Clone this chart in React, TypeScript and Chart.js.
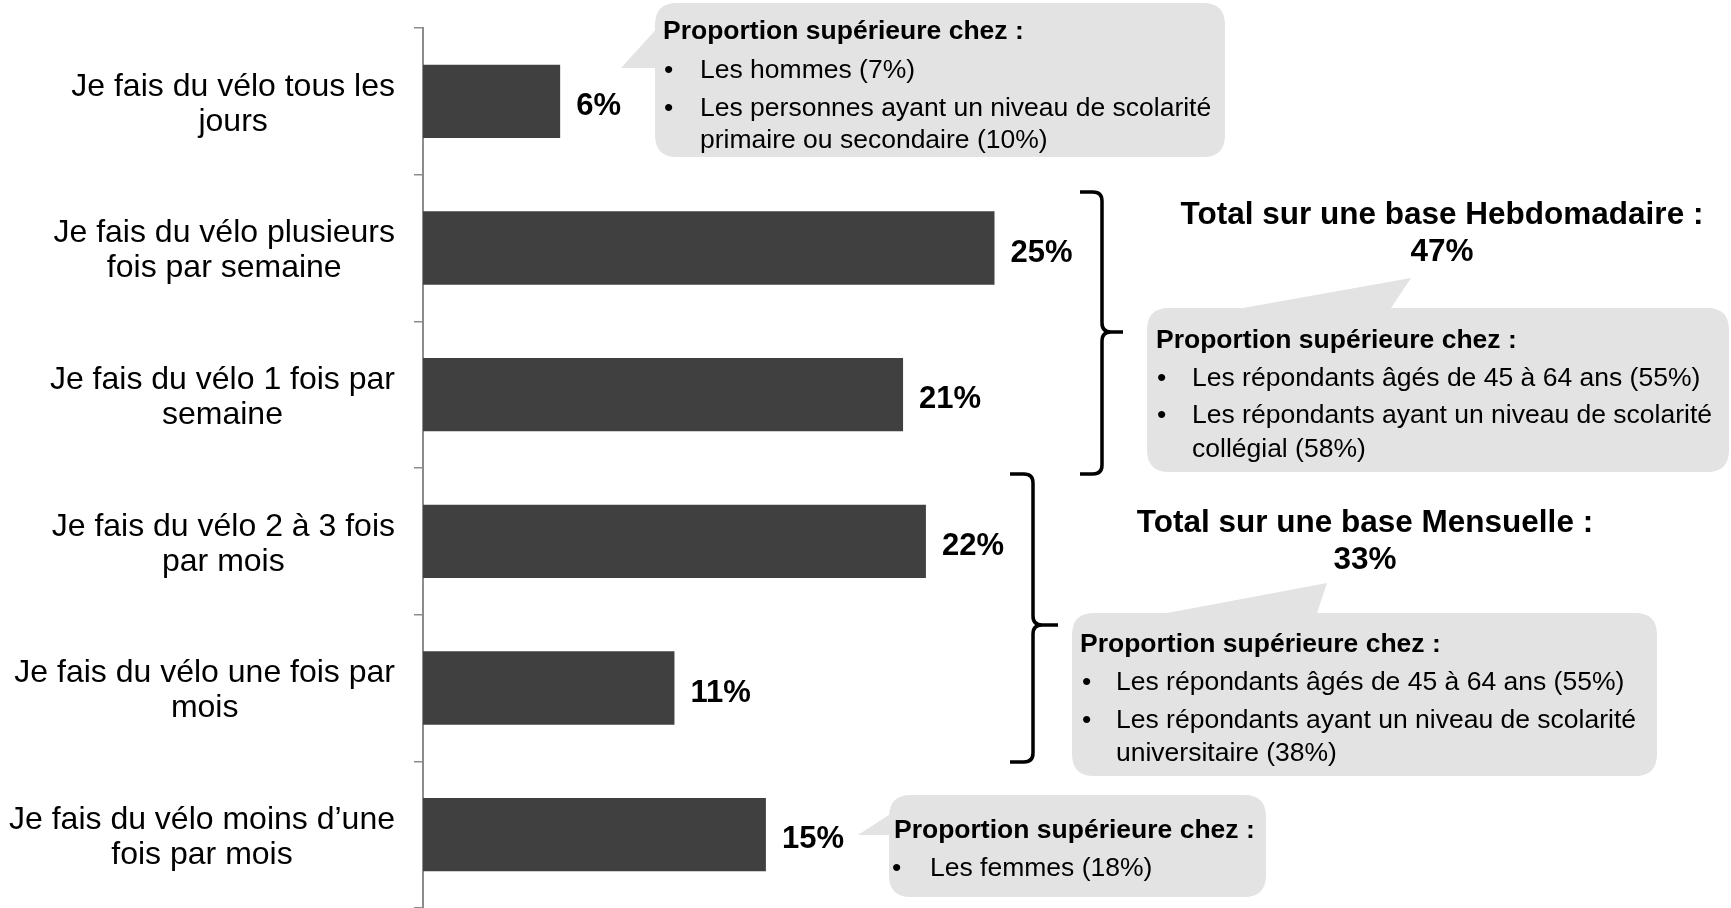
import React, { useEffect, useRef } from "react";
import { Chart, registerables } from "chart.js";

Chart.register(...registerables);

// ---------- Data ----------
const categories: string[][] = [
  ["Je fais du vélo tous les", "jours"],
  ["Je fais du vélo plusieurs", "fois par semaine"],
  ["Je fais du vélo 1 fois par", "semaine"],
  ["Je fais du vélo 2 à 3 fois", "par mois"],
  ["Je fais du vélo une fois par", "mois"],
  ["Je fais du vélo moins d’une", "fois par mois"],
];
const values: number[] = [6, 25, 21, 22, 11, 15];
const valueLabels: string[] = values.map((v) => `${v}%`);

const calloutHeading = "Proportion supérieure chez :";
const dailyNotes: string[] = [
  "Les hommes (7%)",
  "Les personnes ayant un niveau de scolarité",
  "primaire ou secondaire (10%)",
];
const dailyBullets: boolean[] = [true, true, false];
const weeklyTotal: string[] = ["Total sur une base Hebdomadaire :", "47%"];
const weeklyNotes: string[] = [
  "Les répondants âgés de 45 à 64 ans (55%)",
  "Les répondants ayant un niveau de scolarité",
  "collégial (58%)",
];
const weeklyBullets: boolean[] = [true, true, false];
const monthlyTotal: string[] = ["Total sur une base Mensuelle :", "33%"];
const monthlyNotes: string[] = [
  "Les répondants âgés de 45 à 64 ans (55%)",
  "Les répondants ayant un niveau de scolarité",
  "universitaire (38%)",
];
const monthlyBullets: boolean[] = [true, true, false];
const lessNotes: string[] = ["Les femmes (18%)"];
const lessBullets: boolean[] = [true];

// ---------- Layout / style ----------
const W = 1731;
const H = 908;
const AXIS_X = 423;
const FONT = '"Liberation Sans", Arial, Helvetica, sans-serif';
const BAR_COLOR = "#404040";
const AXIS_COLOR = "#8c8c8c";
const CALLOUT_FILL = "#e3e3e3";
const TEXT_DY = 3; // visual centring of 'middle' baseline

type Callout = {
  box: [number, number, number, number]; // x1,y1,x2,y2
  pointer: number[][];
  headX: number;
  headY: number;
  bulletX: number;
  textX: number;
  lineY: number[];
  notes: string[];
  bullets: boolean[];
};

const callouts: Callout[] = [
  {
    box: [655, 3, 1225, 157],
    pointer: [[621, 68], [670, 14], [670, 68]],
    headX: 663, headY: 29, bulletX: 664, textX: 700,
    lineY: [68, 106, 138],
    notes: dailyNotes, bullets: dailyBullets,
  },
  {
    box: [1147, 308, 1729, 472],
    pointer: [[1243, 308], [1411, 278], [1391, 308], [1391, 322], [1243, 322]],
    headX: 1156, headY: 338, bulletX: 1157, textX: 1192,
    lineY: [376, 413, 447],
    notes: weeklyNotes, bullets: weeklyBullets,
  },
  {
    box: [1072, 613, 1657, 776],
    pointer: [[1167, 613], [1327, 583], [1317, 613], [1317, 626], [1167, 626]],
    headX: 1080, headY: 642, bulletX: 1082, textX: 1116,
    lineY: [680, 718, 751],
    notes: monthlyNotes, bullets: monthlyBullets,
  },
  {
    box: [889, 795, 1266, 897],
    pointer: [[858, 835], [905, 804.6], [905, 835]],
    headX: 894, headY: 828, bulletX: 892, textX: 930,
    lineY: [866],
    notes: lessNotes, bullets: lessBullets,
  },
];

const totals = [
  { lines: weeklyTotal, x: 1442, ys: [214, 251] },
  { lines: monthlyTotal, x: 1365, ys: [522, 559] },
];

const braces = [
  { xl: 1080, xv: 1102, xn: 1123, top: 192, mid: 332, bottom: 474 },
  { xl: 1010, xv: 1033, xn: 1058, top: 474, mid: 625, bottom: 762 },
];

function roundRectPath(ctx: CanvasRenderingContext2D, x: number, y: number, w: number, h: number, r: number) {
  ctx.beginPath();
  ctx.moveTo(x + r, y);
  ctx.lineTo(x + w - r, y);
  ctx.quadraticCurveTo(x + w, y, x + w, y + r);
  ctx.lineTo(x + w, y + h - r);
  ctx.quadraticCurveTo(x + w, y + h, x + w - r, y + h);
  ctx.lineTo(x + r, y + h);
  ctx.quadraticCurveTo(x, y + h, x, y + h - r);
  ctx.lineTo(x, y + r);
  ctx.quadraticCurveTo(x, y, x + r, y);
  ctx.closePath();
}

function drawCallout(ctx: CanvasRenderingContext2D, c: Callout) {
  const [x1, y1, x2, y2] = c.box;
  ctx.fillStyle = CALLOUT_FILL;
  roundRectPath(ctx, x1, y1, x2 - x1, y2 - y1, 22);
  ctx.fill();
  ctx.beginPath();
  c.pointer.forEach(([px, py], i) => (i ? ctx.lineTo(px, py) : ctx.moveTo(px, py)));
  ctx.closePath();
  ctx.fill();

  ctx.fillStyle = "#000";
  ctx.textAlign = "left";
  ctx.textBaseline = "middle";
  ctx.font = `bold 26.5px ${FONT}`;
  ctx.fillText(calloutHeading, c.headX, c.headY + TEXT_DY);
  ctx.font = `26.5px ${FONT}`;
  c.notes.forEach((t, i) => {
    if (c.bullets[i]) ctx.fillText("•", c.bulletX, c.lineY[i] + TEXT_DY);
    ctx.fillText(t, c.textX, c.lineY[i] + TEXT_DY);
  });
}

function drawBrace(ctx: CanvasRenderingContext2D, b: typeof braces[number]) {
  const r = 9;
  ctx.strokeStyle = "#000";
  ctx.lineWidth = 3.5;
  ctx.lineJoin = "round";
  ctx.beginPath();
  ctx.moveTo(b.xl, b.top);
  ctx.lineTo(b.xv - r, b.top);
  ctx.quadraticCurveTo(b.xv, b.top, b.xv, b.top + r);
  ctx.lineTo(b.xv, b.mid - r);
  ctx.quadraticCurveTo(b.xv, b.mid, b.xv + r, b.mid);
  ctx.lineTo(b.xn, b.mid);
  ctx.moveTo(b.xv + r, b.mid);
  ctx.quadraticCurveTo(b.xv, b.mid, b.xv, b.mid + r);
  ctx.lineTo(b.xv, b.bottom - r);
  ctx.quadraticCurveTo(b.xv, b.bottom, b.xv - r, b.bottom);
  ctx.lineTo(b.xl, b.bottom);
  ctx.stroke();
}

const overlayPlugin = {
  id: "overlay",
  afterDatasetsDraw(chart: any) {
    const ctx: CanvasRenderingContext2D = chart.ctx;
    const yScale = chart.scales.y;
    const area = chart.chartArea;
    ctx.save();

    // category labels
    ctx.fillStyle = "#000";
    ctx.textBaseline = "middle";
    ctx.textAlign = "center";
    ctx.font = `32px ${FONT}`;
    const right = area.left - 28;
    const lh = 35;
    categories.forEach((lines, i) => {
      const cy = yScale.getPixelForValue(i) + TEXT_DY;
      const w = Math.max(...lines.map((l) => ctx.measureText(l).width));
      const cx = right - w / 2;
      const start = cy - ((lines.length - 1) * lh) / 2;
      lines.forEach((l, j) => ctx.fillText(l, cx, start + j * lh));
    });

    // value labels
    const meta = chart.getDatasetMeta(0);
    ctx.font = `bold 31px ${FONT}`;
    ctx.textAlign = "left";
    meta.data.forEach((bar: any, i: number) => {
      ctx.fillText(valueLabels[i], bar.x + 16, bar.y + TEXT_DY + 2);
    });

    // braces
    braces.forEach((b) => drawBrace(ctx, b));

    // totals
    ctx.fillStyle = "#000";
    ctx.textAlign = "center";
    ctx.textBaseline = "middle";
    ctx.font = `bold 31.5px ${FONT}`;
    totals.forEach((t) => t.lines.forEach((l, j) => ctx.fillText(l, t.x, t.ys[j] + 1)));

    // callouts
    callouts.forEach((c) => drawCallout(ctx, c));

    ctx.restore();
  },
};

export default function App() {
  const ref = useRef<HTMLCanvasElement | null>(null);

  useEffect(() => {
    if (!ref.current) return;
    const chart = new Chart(ref.current, {
      type: "bar",
      data: {
        labels: categories,
        datasets: [
          {
            data: values,
            backgroundColor: BAR_COLOR,
            borderWidth: 0,
            barPercentage: 0.5,
            categoryPercentage: 1.0,
          },
        ],
      },
      options: {
        indexAxis: "y",
        responsive: false,
        animation: false,
        devicePixelRatio: 1,
        layout: { padding: { top: 28, right: 165, bottom: 0, left: 0 } },
        plugins: {
          legend: { display: false },
          tooltip: { enabled: false },
        },
        scales: {
          x: { display: false, min: 0, max: 50 },
          y: {
            type: "category",
            offset: true,
            grid: {
              display: true,
              offset: true,
              drawOnChartArea: false,
              drawTicks: true,
              tickLength: 9,
              color: AXIS_COLOR,
              lineWidth: 1.5,
            },
            border: { display: true, color: AXIS_COLOR, width: 2 },
            ticks: { display: false },
            afterFit: (s: any) => {
              s.width = AXIS_X;
            },
          },
        },
      },
      plugins: [overlayPlugin],
    } as any);
    return () => chart.destroy();
  }, []);

  return (
    <div style={{ position: "fixed", left: 0, top: 0, width: W, height: H, background: "#fff" }}>
      <canvas ref={ref} width={W} height={H} style={{ display: "block" }} />
    </div>
  );
}
